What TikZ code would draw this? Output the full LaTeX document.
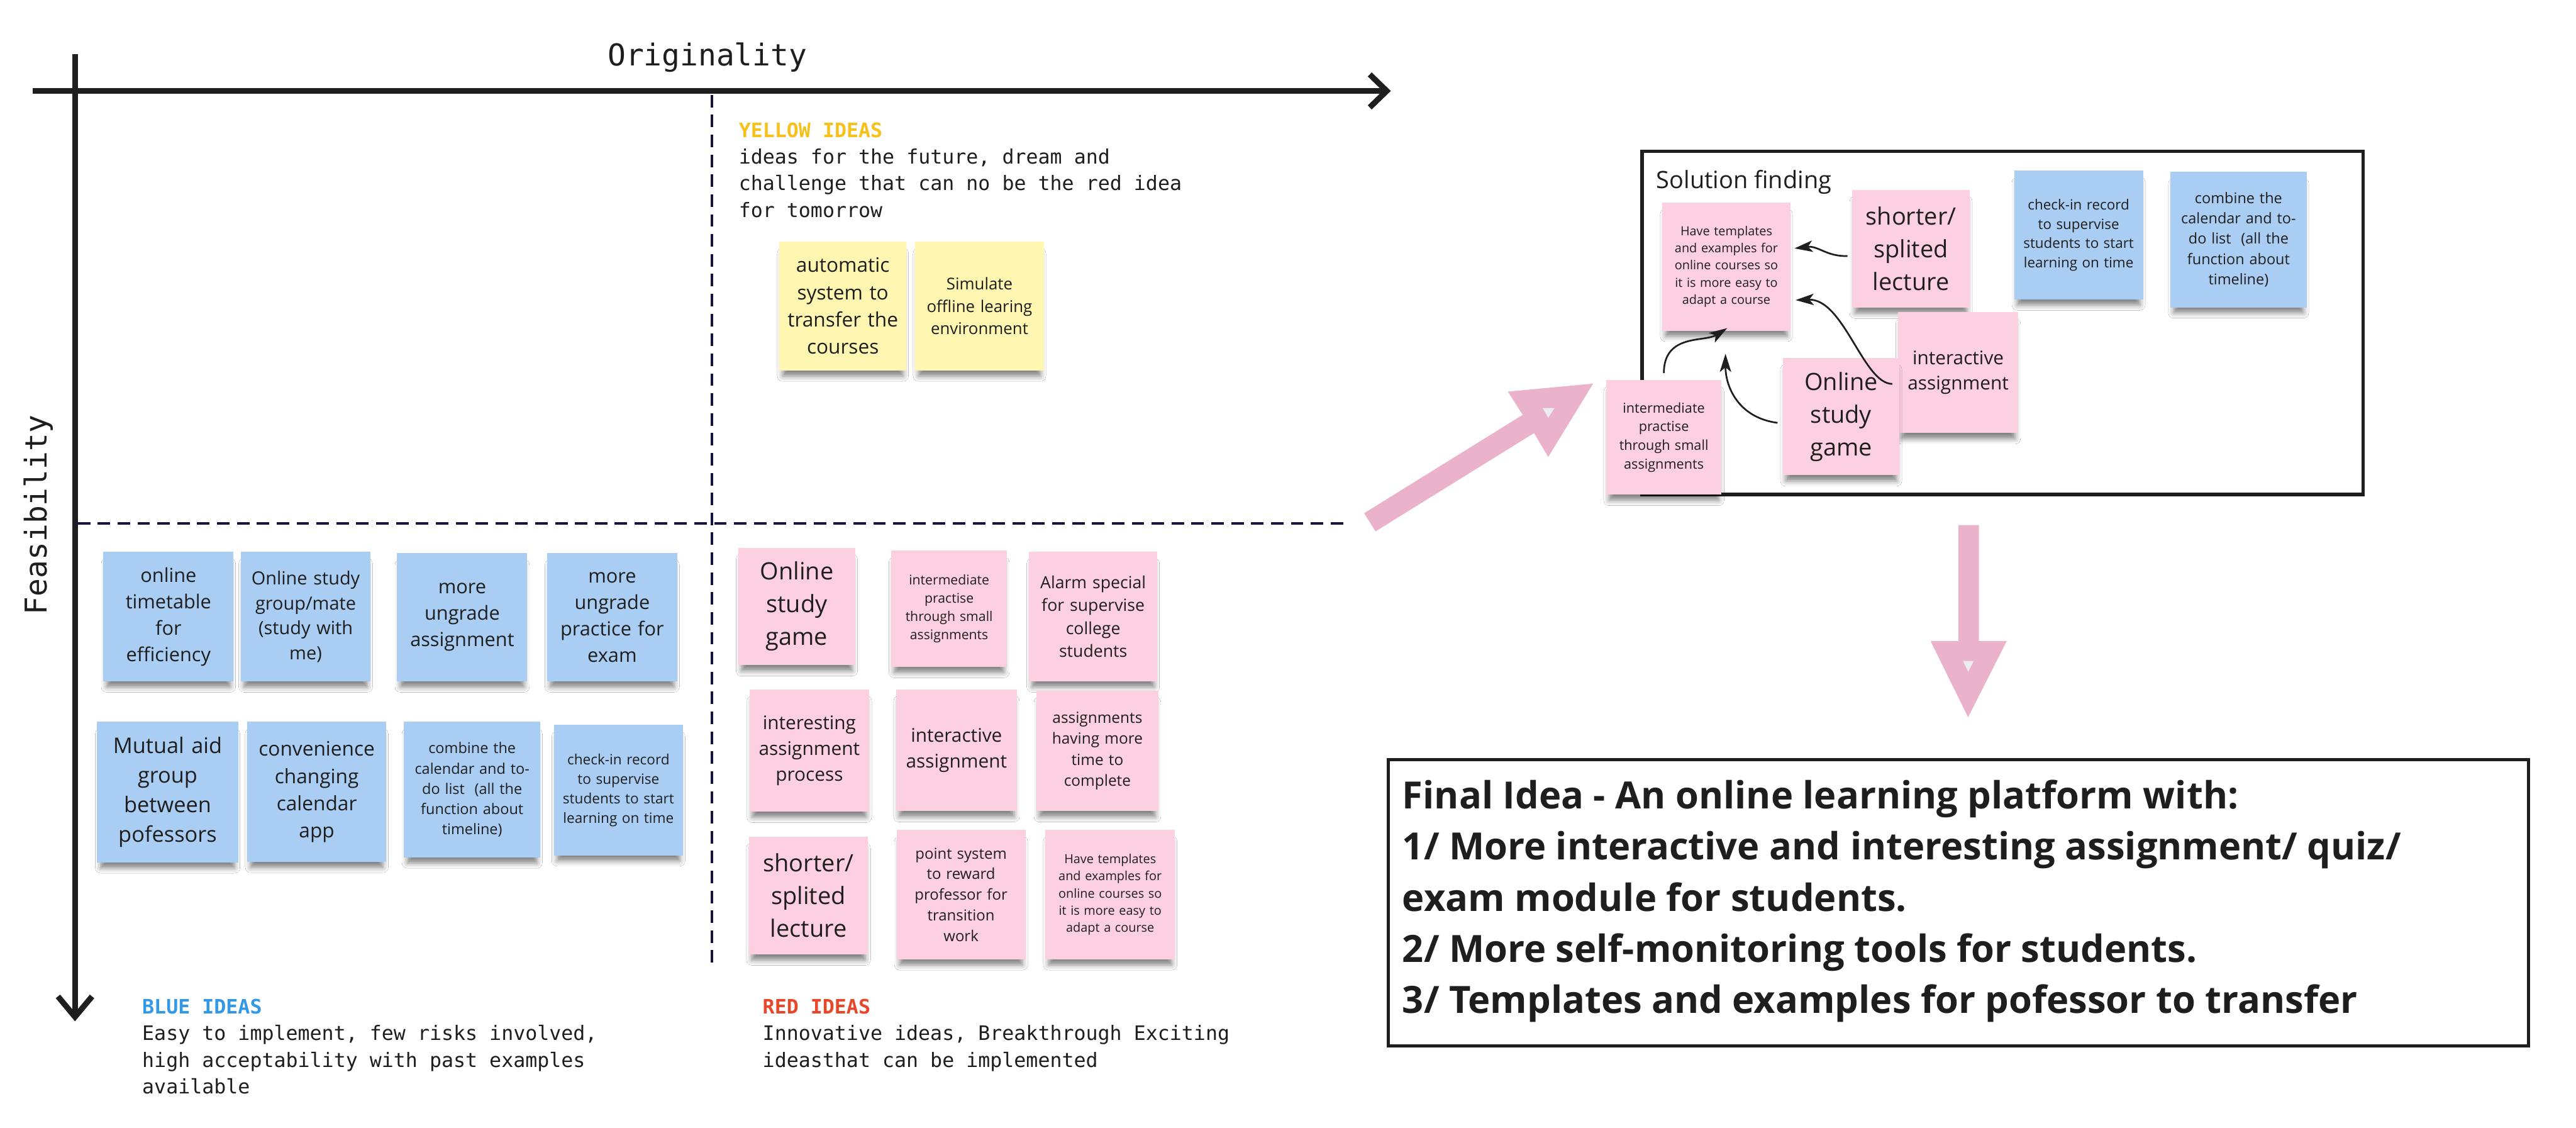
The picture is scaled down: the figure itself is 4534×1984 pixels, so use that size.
\documentclass[tikz,border=0pt]{standalone}
\usepackage{fontspec}
\setmainfont{Open Sans}
\newfontfamily\osans{Open Sans}
\newfontfamily\pmono{DejaVu Sans Mono}
\usetikzlibrary{arrows.meta,shadows,shadows.blur}
\definecolor{stblue}{RGB}{170,205,243}
\definecolor{stpink}{RGB}{253,208,225}
\definecolor{styel}{RGB}{255,246,178}
\definecolor{bigpink}{RGB}{235,178,203}
\definecolor{hyel}{RGB}{246,193,27}
\definecolor{hblue}{RGB}{51,153,230}
\definecolor{hred}{RGB}{232,71,44}
\definecolor{navy}{RGB}{20,20,60}
\definecolor{ink}{RGB}{30,30,30}
\tikzset{
 sticky/.style={anchor=center, align=center, inner sep=0pt, text=ink,
   blur shadow={shadow xshift=0pt, shadow yshift=-8pt, shadow blur radius=5pt, shadow opacity=50, shadow scale=0.95}},
 axisline/.style={line width=5pt, draw=ink},
 quad/.style={draw=navy, line width=2.5pt, dash pattern=on 11pt off 6.5pt},
 monotext/.style={anchor=north west, align=left, inner sep=0pt, text=ink, font=\pmono\fontsize{17.5}{23.5}\selectfont},
 link/.style={draw=ink, line width=1.5pt, -{Stealth[length=16pt,width=10pt,inset=4pt]}},
 bigarrow/.style={fill=bigpink, draw=none},
 arrowmark/.style={fill=black!7, draw=none},
 frame/.style={draw=ink, inner sep=0pt, anchor=north west},
}
% name, x, y, w, h, colour, font size (pt), text
\newcommand\stick[8]{%
 \pgfmathsetmacro\stw{#4*0.5}%
 \pgfmathsetmacro\sth{#5*0.5}%
 \pgfmathsetmacro\sttw{#4*0.5-6}%
 \pgfmathsetmacro\stbl{#7*1.37}%
 \node[sticky, fill=#6, minimum width=\stw pt, minimum height=\sth pt, text width=\sttw pt,
   font=\osans\fontsize{#7}{\stbl}\selectfont] (#1) at ({#2+#4/2},{#3+#5/2}) {#8};}
\begin{document}
\begin{tikzpicture}[x=0.5pt,y=-0.5pt]
\useasboundingbox (0,0) rectangle (4534,1984);
\fill[white] (0,0) rectangle (4534,1984);

% axes
\coordinate (hx0) at (58,160);
\coordinate (hx1) at (2448,160);
\coordinate (vy0) at (132,95);
\coordinate (vy1) at (132,1797);
\draw[axisline, -{Straight Barb[length=15pt,width=29pt]}] (hx0) -- (hx1);
\draw[axisline, -{Straight Barb[length=18pt,width=30pt]}] (vy0) -- (vy1);
\node[font=\pmono\fontsize{26.5}{30}\selectfont, text=ink, anchor=base, inner sep=0pt] (orig) at (1245,116) {Originality};
\node[font=\pmono\fontsize{26.5}{30}\selectfont, text=ink, anchor=base, inner sep=0pt, rotate=90] (feas) at (83,906) {Feasibility};

% quadrant dashes
\coordinate (dv0) at (1253,167);
\coordinate (dv1) at (1253,1700);
\coordinate (dh0) at (137,921);
\coordinate (dh1) at (2370,921);
\draw[quad] (dv0) -- (dv1);
\draw[quad] (dh0) -- (dh1);

% texts
\node[monotext] (ytxt) at (1300,215) {\textcolor{hyel}{\bfseries YELLOW IDEAS}\\ideas for the future, dream and\\challenge that can no be the red idea\\for tomorrow};
\node[monotext] (btxt) at (250,1757) {\textcolor{hblue}{\bfseries BLUE IDEAS}\\Easy to implement, few risks involved,\\high acceptability with past examples\\available};
\node[monotext] (rtxt) at (1342,1757) {\textcolor{hred}{\bfseries RED IDEAS}\\Innovative ideas, Breakthrough Exciting\\ideasthat can be implemented};

% yellow notes
\stick{y1}{1372}{425}{223}{227}{styel}{17.5}{automatic\\system to\\transfer the\\courses}
\stick{y2}{1611}{425}{226}{227}{styel}{14.3}{Simulate\\offline learing\\environment}

% blue notes
\stick{b1}{182}{971}{229}{228}{stblue}{17}{online\\timetable\\for\\efficiency}
\stick{b2}{424}{971}{228}{228}{stblue}{16}{Online study\\group/mate\\(study with\\me)}
\stick{b3}{699}{973}{229}{226}{stblue}{17}{more\\ungrade\\assignment}
\stick{b4}{963}{973}{229}{226}{stblue}{17}{more\\ungrade\\practice for\\exam}
\stick{b5}{171}{1270}{248}{248}{stblue}{19}{Mutual aid\\group\\between\\pofessors}
\stick{b6}{435}{1270}{245}{247}{stblue}{17.5}{convenience\\changing\\calendar\\app}
\stick{b7}{711}{1270}{240}{239}{stblue}{13}{combine the\\calendar and to-\\do list~ (all the\\function about\\timeline)}
\stick{b8}{975}{1275}{227}{230}{stblue}{12.5}{check-in record\\to supervise\\students to start\\learning on time}

% pink notes
\stick{p1}{1300}{964}{205}{206}{stpink}{21}{Online\\study\\game}
\stick{p2}{1569}{969}{203}{204}{stpink}{11.75}{intermediate\\practise\\through small\\assignments}
\stick{p3}{1811}{971}{226}{228}{stpink}{14.75}{Alarm special\\for supervise\\college\\students}
\stick{p4}{1319}{1213}{211}{215}{stpink}{16.5}{interesting\\assignment\\process}
\stick{p5}{1577}{1213}{213}{214}{stpink}{16.5}{interactive\\assignment}
\stick{p6}{1824}{1215}{215}{212}{stpink}{13.5}{assignments\\having more\\time to\\complete}
\stick{p7}{1318}{1472}{210}{207}{stpink}{21}{shorter/\\splited\\lecture}
\stick{p8}{1578}{1460}{227}{228}{stpink}{13.25}{point system\\to reward\\professor for\\transition\\work}
\stick{p9}{1840}{1460}{228}{228}{stpink}{11}{Have templates\\and examples for\\online courses so\\it is more easy to\\adapt a course}

% solution finding frame
\node[frame, line width=3pt, minimum width=634.5pt, minimum height=302pt] (solbox) at (2887,263) {};
\node[anchor=base west, inner sep=0pt, font=\osans\fontsize{21}{25}\selectfont, text=ink] (soltitle) at (2915,332) {Solution finding};
\stick{sT}{2926}{356}{225}{226}{stpink}{11}{Have templates\\and examples for\\online courses so\\it is more easy to\\adapt a course}
\stick{sS}{3260}{334}{207}{207}{stpink}{21}{shorter/\\splited\\lecture}
\stick{sC}{3545}{300}{227}{227}{stblue}{12.4}{check-in record\\to supervise\\students to start\\learning on time}
\stick{sK}{3820}{302}{240}{239}{stblue}{13}{combine the\\calendar and to-\\do list~ (all the\\function about\\timeline)}
\stick{sI}{3341}{549}{211}{213}{stpink}{16.5}{interactive\\assignment}
\stick{sO}{3138}{630}{205}{206}{stpink}{21}{Online\\study\\game}
\stick{sM}{2827}{669}{203}{201}{stpink}{12}{intermediate\\practise\\through small\\assignments}

\draw[link] ([shift={(-8,13)}]sS.west) .. controls +(-37,1) and +(42,-5) .. ([shift={(7,-32)}]sT.east);
\draw[link] ([shift={(-10,20)}]sI.west) .. controls +(-51,0) and +(85,-3) .. ([shift={(9,59)}]sT.east);
\draw[link] ([shift={(-9,11)}]sO.west) .. controls +(-69,-9) and +(0,58) .. ([shift={(-1.5,40)}]sT.south);
\draw[link] ([shift={(0,-12)}]sM.north) .. controls +(0,-70) and +(-40,25) .. ([shift={(1.5,-5)}]sT.south);

% big pink arrows
\fill[bigarrow] (2401,903) -- (2680,730) -- (2654,689) -- (2804,675) -- (2725,804) -- (2700,762) -- (2421,935) -- cycle;
\fill[arrowmark] (2715,718) -- (2736,718) -- (2725,735) -- cycle;
\fill[bigarrow] (3447,924) -- (3483,924) -- (3483,1128) -- (3532,1128) -- (3464,1262) -- (3398,1128) -- (3447,1128) -- cycle;
\fill[arrowmark] (3455,1163) -- (3474,1163) -- (3464,1182) -- cycle;

% final idea
\node[frame, line width=2.5pt, minimum width=1003.5pt, minimum height=252pt] (finalbox) at (2441,1334) {};
\node[anchor=north west, align=left, inner sep=0pt, font=\osans\bfseries\fontsize{33}{45}\selectfont, text=ink] (finaltxt) at (2468,1372) {Final Idea - An online learning platform with:\\1/ More interactive and interesting assignment/ quiz/\\exam module for students.\\2/ More self-monitoring tools for students.\\3/ Templates and examples for pofessor to transfer};
\end{tikzpicture}
\end{document}
